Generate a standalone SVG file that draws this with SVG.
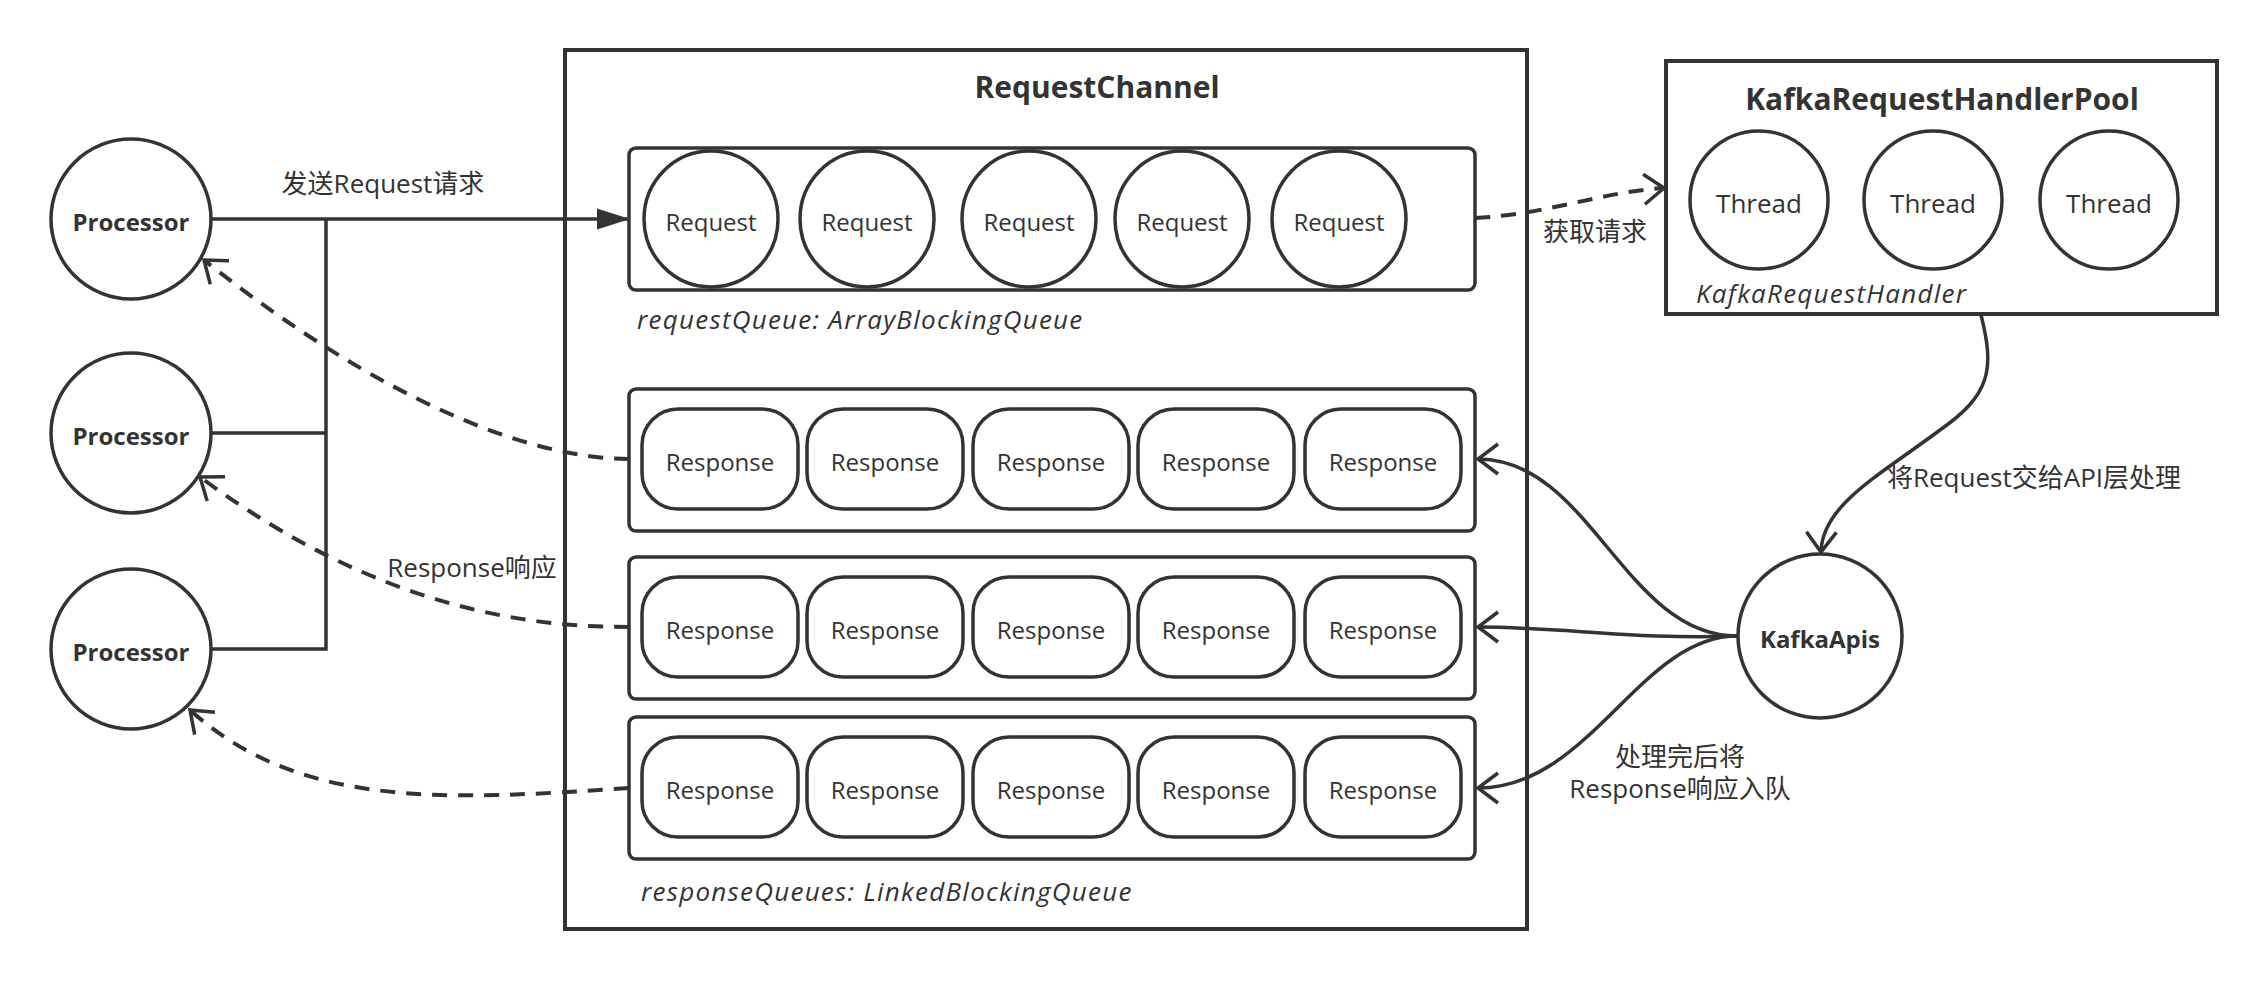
<svg xmlns="http://www.w3.org/2000/svg" width="2268" height="982" viewBox="0 0 2268 982">
<defs>
<style>
.ln{fill:none;stroke:#333;stroke-width:3.5}
.dash{fill:none;stroke:#333;stroke-width:4;stroke-dasharray:15 11}
.shape{fill:#fff;stroke:#333;stroke-width:3.5}
.box{fill:none;stroke:#333;stroke-width:4}
text{font-family:"Open Sans","Noto Sans CJK SC",sans-serif;fill:#333}
.n{font-size:24px;text-anchor:middle}
.b{font-size:24px;font-weight:700;text-anchor:middle}
.t{font-size:30px;font-weight:700;text-anchor:middle}
.lbl{font-size:26px;text-anchor:middle}
.it{font-size:26px;font-style:italic;letter-spacing:1.25px}
</style>
<marker id="open" markerUnits="userSpaceOnUse" viewBox="-24 -18 28 36" markerWidth="28" markerHeight="36" refX="0" refY="0" orient="auto">
<path d="M-20,-15 L0,0 L-20,15" fill="none" stroke="#333" stroke-width="3.5"/>
</marker>
<marker id="fill" markerUnits="userSpaceOnUse" viewBox="-34 -12 36 24" markerWidth="36" markerHeight="24" refX="0" refY="0" orient="auto">
<path d="M-33,-10.5 L0,0 L-33,10.5 Z" fill="#333"/>
</marker>
</defs>
<rect width="2268" height="982" fill="#fff"/>

<g id="requestChannel">
<rect class="box" x="565" y="50" width="962" height="879"/>
<text class="t" x="1097" y="98">RequestChannel</text>
</g>

<g id="requestQueue">
<rect class="shape" x="629" y="148" width="846" height="142" rx="7"/>
<ellipse class="shape" cx="711" cy="219" rx="67" ry="68"/>
<text class="n" x="711" y="231">Request</text>
<ellipse class="shape" cx="867" cy="219" rx="67" ry="68"/>
<text class="n" x="867" y="231">Request</text>
<ellipse class="shape" cx="1029" cy="219" rx="67" ry="68"/>
<text class="n" x="1029" y="231">Request</text>
<ellipse class="shape" cx="1182" cy="219" rx="67" ry="68"/>
<text class="n" x="1182" y="231">Request</text>
<ellipse class="shape" cx="1339" cy="219" rx="67" ry="68"/>
<text class="n" x="1339" y="231">Request</text>
<text class="it" x="637" y="329">requestQueue: ArrayBlockingQueue</text>
</g>

<g id="responseQueue1">
<rect class="shape" x="629" y="389" width="846" height="142" rx="7"/>
<rect class="shape" x="642" y="409" width="156" height="100" rx="36"/>
<text class="n" x="720" y="471">Response</text>
<rect class="shape" x="807" y="409" width="156" height="100" rx="36"/>
<text class="n" x="885" y="471">Response</text>
<rect class="shape" x="973" y="409" width="156" height="100" rx="36"/>
<text class="n" x="1051" y="471">Response</text>
<rect class="shape" x="1138" y="409" width="156" height="100" rx="36"/>
<text class="n" x="1216" y="471">Response</text>
<rect class="shape" x="1305" y="409" width="156" height="100" rx="36"/>
<text class="n" x="1383" y="471">Response</text>
</g>

<g id="responseQueue2">
<rect class="shape" x="629" y="557" width="846" height="142" rx="7"/>
<rect class="shape" x="642" y="577" width="156" height="100" rx="36"/>
<text class="n" x="720" y="639">Response</text>
<rect class="shape" x="807" y="577" width="156" height="100" rx="36"/>
<text class="n" x="885" y="639">Response</text>
<rect class="shape" x="973" y="577" width="156" height="100" rx="36"/>
<text class="n" x="1051" y="639">Response</text>
<rect class="shape" x="1138" y="577" width="156" height="100" rx="36"/>
<text class="n" x="1216" y="639">Response</text>
<rect class="shape" x="1305" y="577" width="156" height="100" rx="36"/>
<text class="n" x="1383" y="639">Response</text>
</g>

<g id="responseQueue3">
<rect class="shape" x="629" y="717" width="846" height="142" rx="7"/>
<rect class="shape" x="642" y="737" width="156" height="100" rx="36"/>
<text class="n" x="720" y="799">Response</text>
<rect class="shape" x="807" y="737" width="156" height="100" rx="36"/>
<text class="n" x="885" y="799">Response</text>
<rect class="shape" x="973" y="737" width="156" height="100" rx="36"/>
<text class="n" x="1051" y="799">Response</text>
<rect class="shape" x="1138" y="737" width="156" height="100" rx="36"/>
<text class="n" x="1216" y="799">Response</text>
<rect class="shape" x="1305" y="737" width="156" height="100" rx="36"/>
<text class="n" x="1383" y="799">Response</text>
<text class="it" x="641" y="901">responseQueues: LinkedBlockingQueue</text>
</g>

<g id="processor1">
<circle class="shape" cx="131" cy="219" r="80"/>
<text class="b" x="131" y="231">Processor</text>
</g>
<g id="processor2">
<circle class="shape" cx="131" cy="433" r="80"/>
<text class="b" x="131" y="445">Processor</text>
</g>
<g id="processor3">
<circle class="shape" cx="131" cy="649" r="80"/>
<text class="b" x="131" y="661">Processor</text>
</g>

<g id="handlerPool">
<rect class="box" x="1666" y="61" width="551" height="253"/>
<text class="t" x="1942" y="110">KafkaRequestHandlerPool</text>
<ellipse class="shape" cx="1759" cy="200" rx="69" ry="69"/>
<text class="lbl" x="1759" y="213">Thread</text>
<ellipse class="shape" cx="1933" cy="200" rx="69" ry="69"/>
<text class="lbl" x="1933" y="213">Thread</text>
<ellipse class="shape" cx="2109" cy="200" rx="69" ry="69"/>
<text class="lbl" x="2109" y="213">Thread</text>
<text class="it" x="1696" y="303">KafkaRequestHandler</text>
</g>

<g id="kafkaApis">
<circle class="shape" cx="1820" cy="636" r="82"/>
<text class="b" x="1820" y="648">KafkaApis</text>
</g>

<g id="connectors">
<path class="ln" d="M212,433 H326 V219 M212,649 H326 V433"/>
<path class="ln" d="M212,219 H630" marker-end="url(#fill)"/>
<text class="lbl" x="383" y="193">发送Request请求</text>

<path class="dash" d="M1475,218 C1550,214 1600,192 1664,188" marker-end="url(#open)"/>
<text class="lbl" x="1595" y="241">获取请求</text>

<path class="ln" d="M1981,315 C1995,370 1990,395 1940,430 C1880,475 1822,505 1821,552" marker-end="url(#open)"/>
<text class="lbl" x="2034" y="487">将Request交给API层处理</text>

<path class="ln" d="M1737,636 C1625,636 1590,459 1478,459" marker-end="url(#open)"/>
<path class="ln" d="M1737,636 C1640,640 1560,627 1478,627" marker-end="url(#open)"/>
<path class="ln" d="M1737,636 C1640,636 1590,788 1478,788" marker-end="url(#open)"/>
<text class="lbl" x="1680" y="766">处理完后将</text>
<text class="lbl" x="1680" y="798">Response响应入队</text>

<path class="dash" d="M629,459 C530,459 380,400 204,260" marker-end="url(#open)"/>
<path class="dash" d="M629,627 C530,627 380,610 200,477" marker-end="url(#open)"/>
<path class="dash" d="M629,788 C450,800 300,810 190,710" marker-end="url(#open)"/>
<text class="lbl" x="472" y="577">Response响应</text>
</g>
</svg>
